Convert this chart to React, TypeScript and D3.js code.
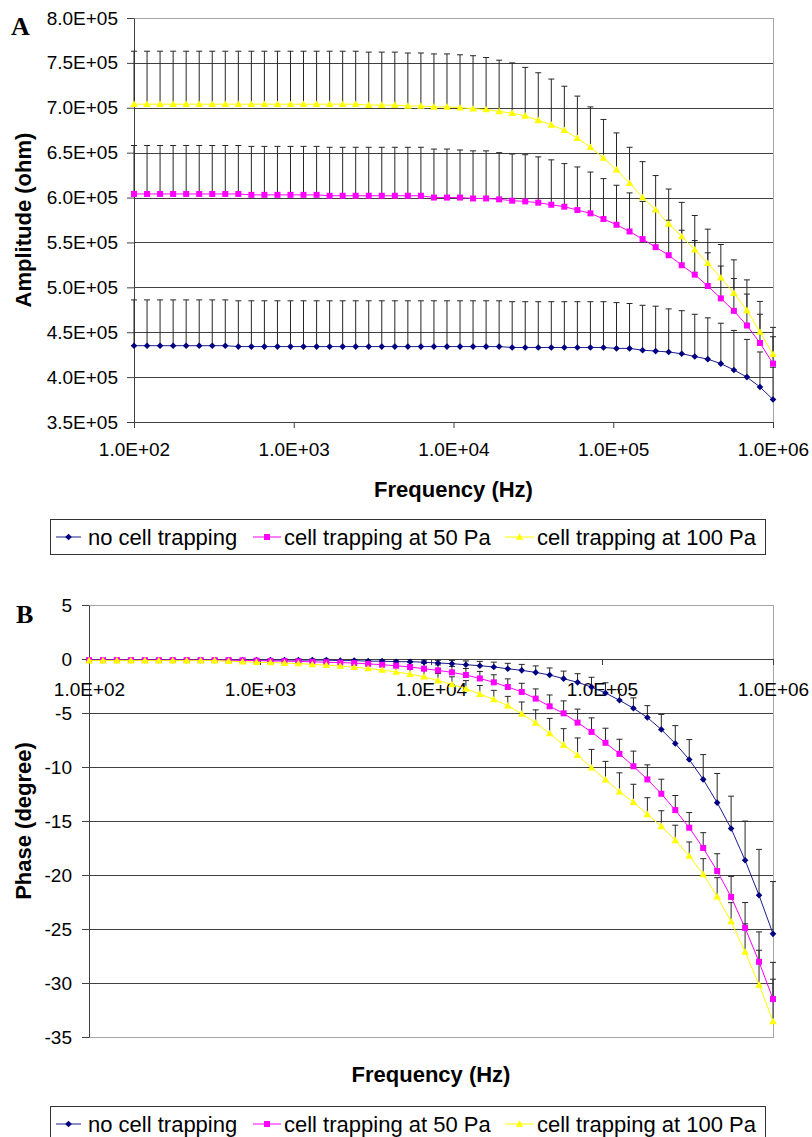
import React, { useRef, useEffect } from "react";
import * as d3 from "d3";

// 50-point log sweep, 100 Hz .. 1 MHz
const freqHz = [
  100, 120.7, 145.6, 175.8, 212.1, 256.0, 308.9, 372.8, 449.9, 542.9,
  655.1, 790.6, 954.1, 1151, 1390, 1677, 2024, 2442, 2947, 3556,
  4292, 5179, 6251, 7543, 9103, 10985, 13257, 15999, 19307, 23300,
  28118, 33932, 40949, 49417, 59636, 71969, 86851, 104811, 126486, 152642,
  184207, 222300, 268270, 323746, 390694, 471487, 568987, 686649, 828643, 1000000,
];

const freqTicks = [1e2, 1e3, 1e4, 1e5, 1e6];
const freqTickLabels = ["1.0E+02", "1.0E+03", "1.0E+04", "1.0E+05", "1.0E+06"];

const ampTicks = [3.5e5, 4.0e5, 4.5e5, 5.0e5, 5.5e5, 6.0e5, 6.5e5, 7.0e5, 7.5e5, 8.0e5];
const ampTickLabels = ["3.5E+05", "4.0E+05", "4.5E+05", "5.0E+05", "5.5E+05", "6.0E+05", "6.5E+05", "7.0E+05", "7.5E+05", "8.0E+05"];

const phaseTicks = [-35, -30, -25, -20, -15, -10, -5, 0, 5];
const phaseTickLabels = ["-35", "-30", "-25", "-20", "-15", "-10", "-5", "0", "5"];

const seriesNames = ["no cell trapping", "cell trapping at 50 Pa", "cell trapping at 100 Pa"];

// amplitude, units of 1e5 ohm
const ampNoTrap = [
  4.35, 4.35, 4.35, 4.35, 4.35, 4.35, 4.35, 4.35, 4.34, 4.34,
  4.34, 4.34, 4.34, 4.34, 4.34, 4.34, 4.34, 4.34, 4.34, 4.34,
  4.34, 4.34, 4.34, 4.34, 4.34, 4.34, 4.34, 4.34, 4.34, 4.33,
  4.33, 4.33, 4.33, 4.33, 4.33, 4.33, 4.33, 4.32, 4.32, 4.30,
  4.29, 4.28, 4.26, 4.23, 4.20, 4.15, 4.08, 4.00, 3.89, 3.75,
];
const ampNoTrapErr = [
  0.51, 0.51, 0.51, 0.51, 0.51, 0.51, 0.51, 0.51, 0.51, 0.51,
  0.51, 0.51, 0.51, 0.51, 0.51, 0.51, 0.51, 0.51, 0.51, 0.51,
  0.51, 0.51, 0.51, 0.51, 0.51, 0.51, 0.51, 0.51, 0.51, 0.51,
  0.51, 0.51, 0.51, 0.51, 0.51, 0.51, 0.51, 0.51, 0.50, 0.50,
  0.50, 0.48, 0.48, 0.47, 0.46, 0.45, 0.44, 0.42, 0.39, 0.36,
];
const ampTrap50 = [
  6.04, 6.04, 6.04, 6.04, 6.04, 6.04, 6.04, 6.04, 6.04, 6.03,
  6.03, 6.03, 6.03, 6.03, 6.03, 6.02, 6.02, 6.02, 6.02, 6.02,
  6.02, 6.02, 6.02, 6.00, 6.00, 6.00, 5.99, 5.99, 5.98, 5.965,
  5.957, 5.943, 5.92, 5.898, 5.861, 5.824, 5.761, 5.697, 5.622, 5.537,
  5.447, 5.358, 5.246, 5.141, 5.015, 4.877, 4.738, 4.575, 4.38, 4.15,
];
const ampTrap50Err = [
  0.54, 0.54, 0.54, 0.54, 0.54, 0.54, 0.54, 0.54, 0.54, 0.54,
  0.54, 0.54, 0.54, 0.54, 0.54, 0.54, 0.54, 0.54, 0.54, 0.54,
  0.54, 0.54, 0.54, 0.54, 0.54, 0.53, 0.53, 0.53, 0.52, 0.52,
  0.52, 0.51, 0.50, 0.48, 0.48, 0.46, 0.45, 0.44, 0.43, 0.42,
  0.40, 0.39, 0.39, 0.38, 0.37, 0.36, 0.36, 0.35, 0.32, 0.30,
];
const ampTrap100 = [
  7.04, 7.04, 7.04, 7.04, 7.04, 7.04, 7.04, 7.04, 7.04, 7.04,
  7.04, 7.04, 7.04, 7.04, 7.04, 7.04, 7.04, 7.04, 7.03, 7.03,
  7.03, 7.02, 7.02, 7.01, 7.01, 7.00, 6.99, 6.98, 6.96, 6.94,
  6.91, 6.86, 6.81, 6.75, 6.66, 6.56, 6.44, 6.31, 6.16, 6.00,
  5.865, 5.705, 5.566, 5.42, 5.268, 5.107, 4.936, 4.743, 4.503, 4.254,
];
const ampTrap100Err = [
  0.59, 0.59, 0.59, 0.59, 0.59, 0.59, 0.59, 0.59, 0.59, 0.59,
  0.59, 0.59, 0.59, 0.59, 0.59, 0.59, 0.59, 0.59, 0.59, 0.59,
  0.59, 0.59, 0.59, 0.59, 0.59, 0.59, 0.59, 0.58, 0.57, 0.56,
  0.54, 0.53, 0.51, 0.49, 0.47, 0.45, 0.43, 0.41, 0.40, 0.40,
  0.38, 0.39, 0.38, 0.38, 0.38, 0.37, 0.37, 0.34, 0.34, 0.30,
];

// phase, degree
const phaseNoTrap = [
  -0.1, -0.1, -0.1, -0.1, -0.1, -0.1, -0.1, -0.1, -0.1, -0.1,
  -0.1, -0.1, -0.1, -0.1, -0.1, -0.1, -0.1, -0.1, -0.15, -0.15,
  -0.2, -0.2, -0.25, -0.25, -0.3, -0.37, -0.43, -0.53, -0.62, -0.74,
  -0.9, -1.05, -1.24, -1.48, -1.82, -2.16, -2.59, -3.15, -3.82, -4.56,
  -5.42, -6.53, -7.83, -9.31, -11.15, -13.3, -15.7, -18.64, -21.88, -25.45,
];
const phaseNoTrapErr = [
  0.1, 0.1, 0.1, 0.1, 0.1, 0.1, 0.1, 0.1, 0.1, 0.1,
  0.1, 0.1, 0.1, 0.1, 0.1, 0.1, 0.1, 0.1, 0.1, 0.1,
  0.1, 0.15, 0.15, 0.2, 0.2, 0.25, 0.3, 0.35, 0.4, 0.45,
  0.5, 0.55, 0.6, 0.65, 0.7, 0.8, 0.9, 0.95, 1.0, 0.96,
  1.1, 1.4, 1.66, 1.85, 2.3, 2.7, 3.0, 3.63, 4.25, 4.84,
];
const phaseTrap50 = [
  -0.1, -0.1, -0.1, -0.1, -0.1, -0.1, -0.1, -0.1, -0.1, -0.1,
  -0.1, -0.12, -0.15, -0.18, -0.2, -0.22, -0.26, -0.3, -0.33, -0.38,
  -0.45, -0.53, -0.62, -0.74, -0.9, -1.05, -1.24, -1.48, -1.8, -2.16,
  -2.59, -3.05, -3.67, -4.38, -5.03, -5.89, -6.75, -7.76, -8.78, -9.93,
  -11.15, -12.48, -13.99, -15.62, -17.5, -19.63, -22.03, -24.9, -28.04, -31.49,
];
const phaseTrap50Err = [
  0.1, 0.1, 0.1, 0.1, 0.1, 0.1, 0.1, 0.1, 0.1, 0.1,
  0.1, 0.1, 0.1, 0.1, 0.1, 0.1, 0.2, 0.2, 0.2, 0.25,
  0.3, 0.35, 0.4, 0.45, 0.5, 0.5, 0.55, 0.6, 0.65, 0.7,
  0.75, 0.8, 0.9, 1.05, 1.15, 1.25, 1.3, 1.35, 1.35, 1.4,
  1.35, 1.35, 1.35, 1.4, 1.42, 1.6, 1.9, 2.35, 2.77, 3.4,
];
const phaseTrap100 = [
  -0.15, -0.15, -0.15, -0.15, -0.15, -0.15, -0.15, -0.15, -0.15, -0.15,
  -0.2, -0.25, -0.3, -0.33, -0.38, -0.42, -0.5, -0.57, -0.65, -0.75,
  -0.88, -1.02, -1.2, -1.4, -1.65, -2.0, -2.35, -2.75, -3.25, -3.75,
  -4.32, -5.08, -5.91, -6.9, -7.95, -8.91, -10.07, -11.18, -12.29, -13.25,
  -14.39, -15.5, -16.79, -18.24, -19.94, -22.0, -24.31, -27.12, -30.17, -33.55,
];
const phaseTrap100Err = [
  0.1, 0.1, 0.1, 0.1, 0.1, 0.1, 0.1, 0.1, 0.1, 0.1,
  0.1, 0.1, 0.1, 0.1, 0.1, 0.1, 0.2, 0.25, 0.3, 0.35,
  0.4, 0.45, 0.5, 0.55, 0.6, 0.65, 0.7, 0.75, 0.8, 0.85,
  0.86, 1.1, 1.2, 1.4, 1.5, 1.6, 1.7, 1.7, 1.75, 1.65,
  1.55, 1.45, 1.4, 1.3, 1.45, 1.75, 1.75, 2.6, 3.2, 3.9,
];

const SANS = "'Liberation Sans', Arial, sans-serif";
const SERIF = "'Liberation Serif', 'Times New Roman', serif";
const GRID = "#404040";

const styles = [
  { line: "#1c1c90", fill: "#000080", marker: "M0,-3.3L3.3,0L0,3.3L-3.3,0Z" },
  { line: "#ff00ff", fill: "#ff00ff", marker: "M-3,-3H3V3H-3Z" },
  { line: "#ffff00", fill: "#ffff00", marker: "M0,-3.8L3.8,2.8L-3.8,2.8Z" },
];

function drawPanel(svg, p) {
  const g = svg.append("g");
  const x = d3.scaleLog().domain([1e2, 1e6]).range([p.left, p.right]);
  const y = d3.scaleLinear().domain(p.yDomain).range([p.bottom, p.top]);

  // plot area border
  g.append("rect")
    .attr("x", p.left + 0.5).attr("y", p.top + 0.5)
    .attr("width", p.right - p.left).attr("height", p.bottom - p.top)
    .attr("fill", "none").attr("stroke", "#a6a6a6");

  // gridlines
  g.selectAll(".grid")
    .data(p.yTicks.slice(1, -1))
    .join("line")
    .attr("class", "grid")
    .attr("x1", p.left).attr("x2", p.right)
    .attr("y1", d => Math.round(y(d)) + 0.5).attr("y2", d => Math.round(y(d)) + 0.5)
    .attr("stroke", GRID);

  // axes
  const yAxis = d3.axisLeft(y)
    .tickValues(p.yTicks)
    .tickFormat((d, i) => p.yTickLabels[i])
    .tickSize(7).tickSizeOuter(0).tickPadding(p.yPad);
  const ya = g.append("g").attr("transform", `translate(${p.left},0)`).call(yAxis);

  const xAxis = d3.axisBottom(x)
    .tickValues(freqTicks)
    .tickFormat((d, i) => freqTickLabels[i])
    .tickSize(6).tickSizeOuter(0).tickPadding(p.xPad);
  const xa = g.append("g").attr("transform", `translate(0,${Math.round(y(p.xAxisAt))})`).call(xAxis);

  [ya, xa].forEach(a => {
    a.attr("font-family", SANS).attr("font-size", 19);
    a.selectAll("path, line").attr("stroke", GRID);
    a.selectAll("text").attr("fill", "#000");
  });

  // error bars (plus direction)
  p.series.forEach(s => {
    const eb = g.append("g").attr("stroke", "#262626").attr("stroke-width", 1);
    s.values.forEach((v, i) => {
      const cx = x(freqHz[i]);
      const y0 = y(v);
      const y1 = y(v + s.errors[i]);
      eb.append("line").attr("x1", cx).attr("x2", cx).attr("y1", y0).attr("y2", y1);
      eb.append("line").attr("x1", cx - 3).attr("x2", cx + 3).attr("y1", y1).attr("y2", y1);
    });
  });

  // series lines and markers
  p.series.forEach((s, k) => {
    const line = d3.line<number>().x((d, i) => x(freqHz[i])).y(d => y(d));
    g.append("path").attr("d", line(s.values)).attr("fill", "none")
      .attr("stroke", styles[k].line).attr("stroke-width", 1);
    g.selectAll(`.m${k}`)
      .data(s.values)
      .join("path")
      .attr("class", `m${k}`)
      .attr("d", styles[k].marker)
      .attr("transform", (d, i) => `translate(${x(freqHz[i])},${y(d)})`)
      .attr("fill", styles[k].fill);
  });

  // panel letter
  g.append("text").attr("x", p.letterX).attr("y", p.letterY)
    .attr("font-family", SERIF).attr("font-weight", "bold").attr("font-size", 26)
    .text(p.letter);

  // axis titles
  g.append("text")
    .attr("transform", `translate(31,${(p.top + p.bottom) / 2}) rotate(-90)`)
    .attr("text-anchor", "middle")
    .attr("font-family", SANS).attr("font-weight", "bold").attr("font-size", 22)
    .text(p.yTitle);
  g.append("text")
    .attr("x", (p.left + p.right) / 2).attr("y", p.xTitleY)
    .attr("text-anchor", "middle")
    .attr("font-family", SANS).attr("font-weight", "bold").attr("font-size", 22)
    .text("Frequency (Hz)");

  // legend
  const lg = g.append("g").attr("transform", `translate(0,${p.legendY})`);
  lg.append("rect").attr("x", 50.5).attr("y", 0.5).attr("width", 715).attr("height", 35)
    .attr("fill", "#fff").attr("stroke", "#333");
  const items = [
    { x0: 56, x1: 81, tx: 88 },
    { x0: 253, x1: 281, tx: 284 },
    { x0: 505, x1: 534, tx: 537 },
  ];
  items.forEach((it, k) => {
    lg.append("line").attr("x1", it.x0).attr("x2", it.x1).attr("y1", 18).attr("y2", 18)
      .attr("stroke", styles[k].line);
    lg.append("path").attr("d", styles[k].marker)
      .attr("transform", `translate(${(it.x0 + it.x1) / 2},18)`).attr("fill", styles[k].fill);
    lg.append("text").attr("x", it.tx).attr("y", 26)
      .attr("font-family", SANS).attr("font-size", 22)
      .text(seriesNames[k]);
  });
}

function App() {
  const svgRef = useRef<SVGSVGElement>(null);

  useEffect(() => {
    const svg = d3.select(svgRef.current);
    svg.selectAll("*").remove();

    drawPanel(svg, {
      left: 134, right: 773, top: 18, bottom: 422,
      yDomain: [3.5e5, 8e5], yTicks: ampTicks, yTickLabels: ampTickLabels,
      yPad: 9, xPad: 15, xAxisAt: 3.5e5,
      series: [
        { values: ampNoTrap.map(v => v * 1e5), errors: ampNoTrapErr.map(v => v * 1e5) },
        { values: ampTrap50.map(v => v * 1e5), errors: ampTrap50Err.map(v => v * 1e5) },
        { values: ampTrap100.map(v => v * 1e5), errors: ampTrap100Err.map(v => v * 1e5) },
      ],
      letter: "A", letterX: 11, letterY: 35,
      yTitle: "Amplitude (ohm)", xTitleY: 497, legendY: 519,
    });

    drawPanel(svg, {
      left: 89, right: 773, top: 605, bottom: 1037,
      yDomain: [-35, 5], yTicks: phaseTicks, yTickLabels: phaseTickLabels,
      yPad: 10, xPad: 18, xAxisAt: 0,
      series: [
        { values: phaseNoTrap, errors: phaseNoTrapErr },
        { values: phaseTrap50, errors: phaseTrap50Err },
        { values: phaseTrap100, errors: phaseTrap100Err },
      ],
      letter: "B", letterX: 16, letterY: 623,
      yTitle: "Phase (degree)", xTitleY: 1082, legendY: 1106,
    });
  }, []);

  return (
    <svg
      ref={svgRef}
      width={812}
      height={1137}
      style={{ position: "absolute", left: 0, top: 0, background: "#fff" }}
    />
  );
}

export default App;
